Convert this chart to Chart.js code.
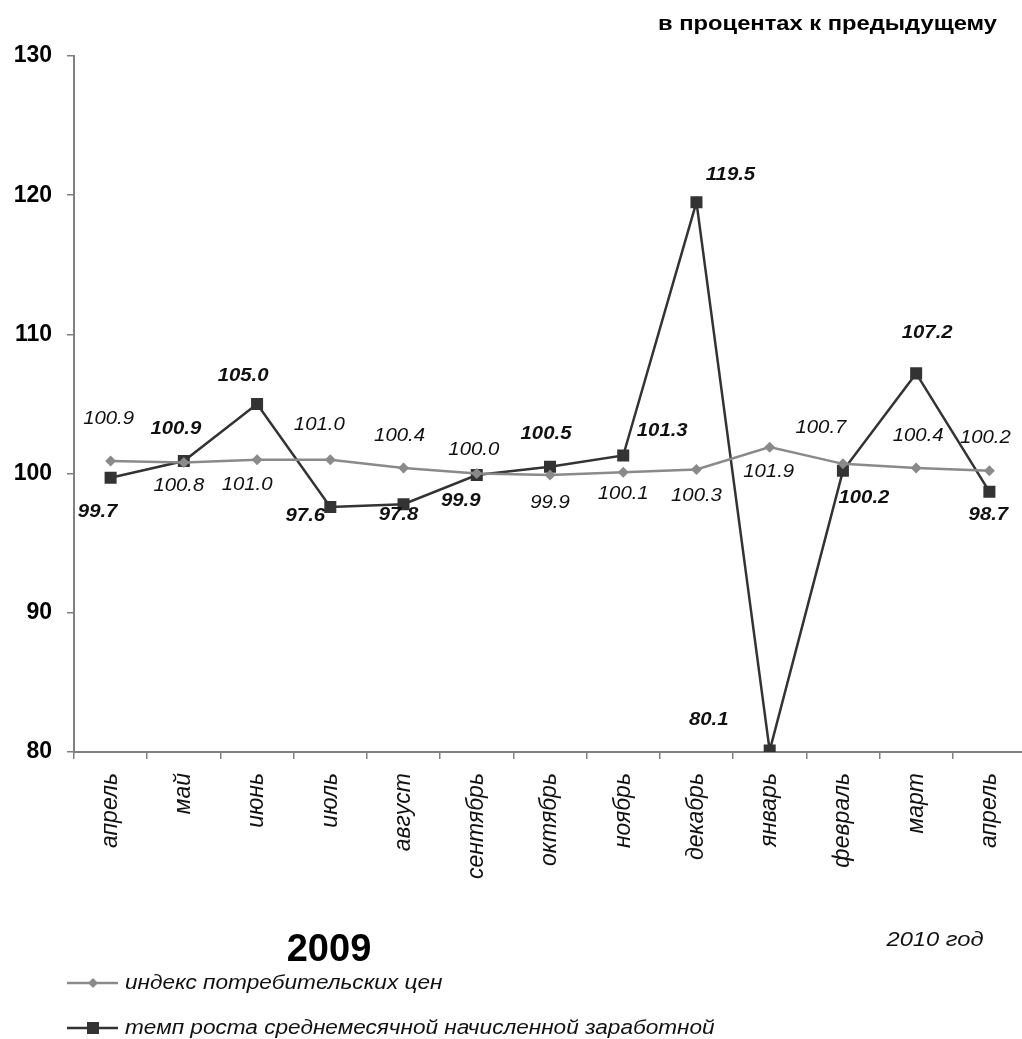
<!DOCTYPE html>
<html>
<head>
<meta charset="utf-8">
<script src="https://cdn.jsdelivr.net/npm/chart.js"></script>
<style>
  html, body { margin: 0; padding: 0; background: #fff; overflow: hidden; }
  #wrap { width: 1022px; height: 1039px; overflow: hidden; }
  #chart { display: block; }
</style>
</head>
<body>
<div id="wrap"><canvas id="chart" width="1040" height="1039"></canvas></div>
<script>
// months, Apr 2009 .. Apr 2010
var months = ['апрель', 'май', 'июнь', 'июль', 'август', 'сентябрь', 'октябрь',
              'ноябрь', 'декабрь', 'январь', 'февраль', 'март', 'апрель'];
var cpi  = [100.9, 100.8, 101.0, 101.0, 100.4, 100.0, 99.9, 100.1, 100.3, 101.9, 100.7, 100.4, 100.2];
var wage = [99.7, 100.9, 105.0, 97.6, 97.8, 99.9, 100.5, 101.3, 119.5, 80.1, 100.2, 107.2, 98.7];
var yTicks = [80, 90, 100, 110, 120, 130];

var cpiName  = 'индекс потребительских цен';
var wageName = 'темп роста среднемесячной начисленной заработной';

// where each value label sits relative to its point (px)
var cpiOff = [[-2,-42],[-5,24],[-10,25],[-11,-35],[-4,-32],[-3,-24],[0,28],[0,22],[0,27],[-1,25],[-22,-36],[2,-32],[-4,-33]];
var wageOff = [[-13,34],[-8,-32],[-14,-28],[-25,9],[-5,11],[-16,26],[-4,-33],[39,-24],[34,-27],[-61,-31],[21,27],[11,-40],[-1,23]];

var FONT = '"Liberation Sans", Arial, sans-serif';

// the source picture has its text a bit wider than normal
function stretched(ctx, txt, x, y, sx) {
  ctx.save();
  ctx.translate(x, y);
  ctx.scale(sx, 1);
  ctx.fillText(txt, 0, 0);
  ctx.restore();
}

var labelsPlugin = {
  id: 'valueLabels',
  afterDatasetsDraw: function(chart) {
    var ctx = chart.ctx;
    ctx.save();
    ctx.fillStyle = '#111';
    ctx.textAlign = 'center';
    ctx.textBaseline = 'middle';
    var m0 = chart.getDatasetMeta(0).data;
    var m1 = chart.getDatasetMeta(1).data;
    ctx.font = 'italic 18px ' + FONT;
    m0.forEach(function(p, i) {
      stretched(ctx, cpi[i].toFixed(1), p.x + cpiOff[i][0], p.y + cpiOff[i][1], 1.13);
    });
    ctx.font = 'italic bold 18px ' + FONT;
    m1.forEach(function(p, i) {
      stretched(ctx, wage[i].toFixed(1), p.x + wageOff[i][0], p.y + wageOff[i][1], 1.13);
    });
    ctx.restore();
  },
  afterDraw: function(chart) {
    var ctx = chart.ctx;
    ctx.save();
    ctx.fillStyle = '#000';
    ctx.textBaseline = 'middle';

    ctx.textAlign = 'right';
    ctx.font = 'bold 21px ' + FONT;
    stretched(ctx, 'в процентах к предыдущему', 997, 24, 1.13);

    ctx.textAlign = 'center';
    ctx.font = 'bold 38px ' + FONT;
    stretched(ctx, '2009', 329, 951, 1);

    ctx.font = 'italic 21px ' + FONT;
    ctx.fillStyle = '#111';
    stretched(ctx, '2010 год', 935, 940, 1.13);

    // legend
    ctx.textAlign = 'left';
    ctx.font = 'italic 20px ' + FONT;
    ctx.lineWidth = 2.5;
    ctx.strokeStyle = '#8a8a8a';
    ctx.beginPath(); ctx.moveTo(67, 983); ctx.lineTo(118, 983); ctx.stroke();
    ctx.fillStyle = '#8a8a8a';
    ctx.beginPath(); ctx.moveTo(93 - 5, 983); ctx.lineTo(93, 978); ctx.lineTo(98, 983); ctx.lineTo(93, 988); ctx.closePath(); ctx.fill();
    ctx.fillStyle = '#111';
    stretched(ctx, cpiName, 125, 983, 1.13);

    ctx.strokeStyle = '#333';
    ctx.beginPath(); ctx.moveTo(67, 1028); ctx.lineTo(118, 1028); ctx.stroke();
    ctx.fillStyle = '#333';
    ctx.fillRect(87, 1022, 12, 12);
    ctx.fillStyle = '#111';
    stretched(ctx, wageName, 125, 1028, 1.13);
    ctx.restore();
  }
};

new Chart(document.getElementById('chart'), {
  type: 'line',
  data: {
    labels: months,
    datasets: [
      {
        label: cpiName,
        data: cpi,
        borderColor: '#8a8a8a',
        backgroundColor: '#8a8a8a',
        borderWidth: 2.5,
        pointStyle: 'rectRot',
        pointRadius: 5.5,
        pointBorderWidth: 0,
        tension: 0
      },
      {
        label: wageName,
        data: wage,
        borderColor: '#333',
        backgroundColor: '#333',
        borderWidth: 2.5,
        pointStyle: 'rect',
        pointRadius: 8.5,
        pointBorderWidth: 0,
        tension: 0
      }
    ]
  },
  options: {
    responsive: false,
    animation: false,
    devicePixelRatio: 1,
    layout: { padding: { top: 56, right: 14, left: 0, bottom: 0 } },
    plugins: { legend: { display: false }, tooltip: { enabled: false } },
    scales: {
      x: {
        offset: true,
        grid: { offset: true, drawOnChartArea: false, tickLength: 7, color: '#808080', lineWidth: 1.5 },
        border: { color: '#808080', width: 2 },
        ticks: {
          minRotation: 90, maxRotation: 90, padding: 14, autoSkip: false,
          color: '#111', font: { family: FONT, size: 23, style: 'italic' }
        },
        afterFit: function(s) { s.height = 287; }
      },
      y: {
        min: yTicks[0],
        max: yTicks[yTicks.length - 1],
        afterBuildTicks: function(s) { s.ticks = yTicks.map(function(v) { return { value: v }; }); },
        grid: { drawOnChartArea: false, tickLength: 7, color: '#808080', lineWidth: 1.5 },
        border: { color: '#808080', width: 2 },
        ticks: { padding: 15, color: '#000', font: { family: FONT, size: 23, weight: 'bold' } },
        afterFit: function(s) { s.width = 74; }
      }
    }
  },
  plugins: [labelsPlugin]
});
</script>
</body>
</html>
